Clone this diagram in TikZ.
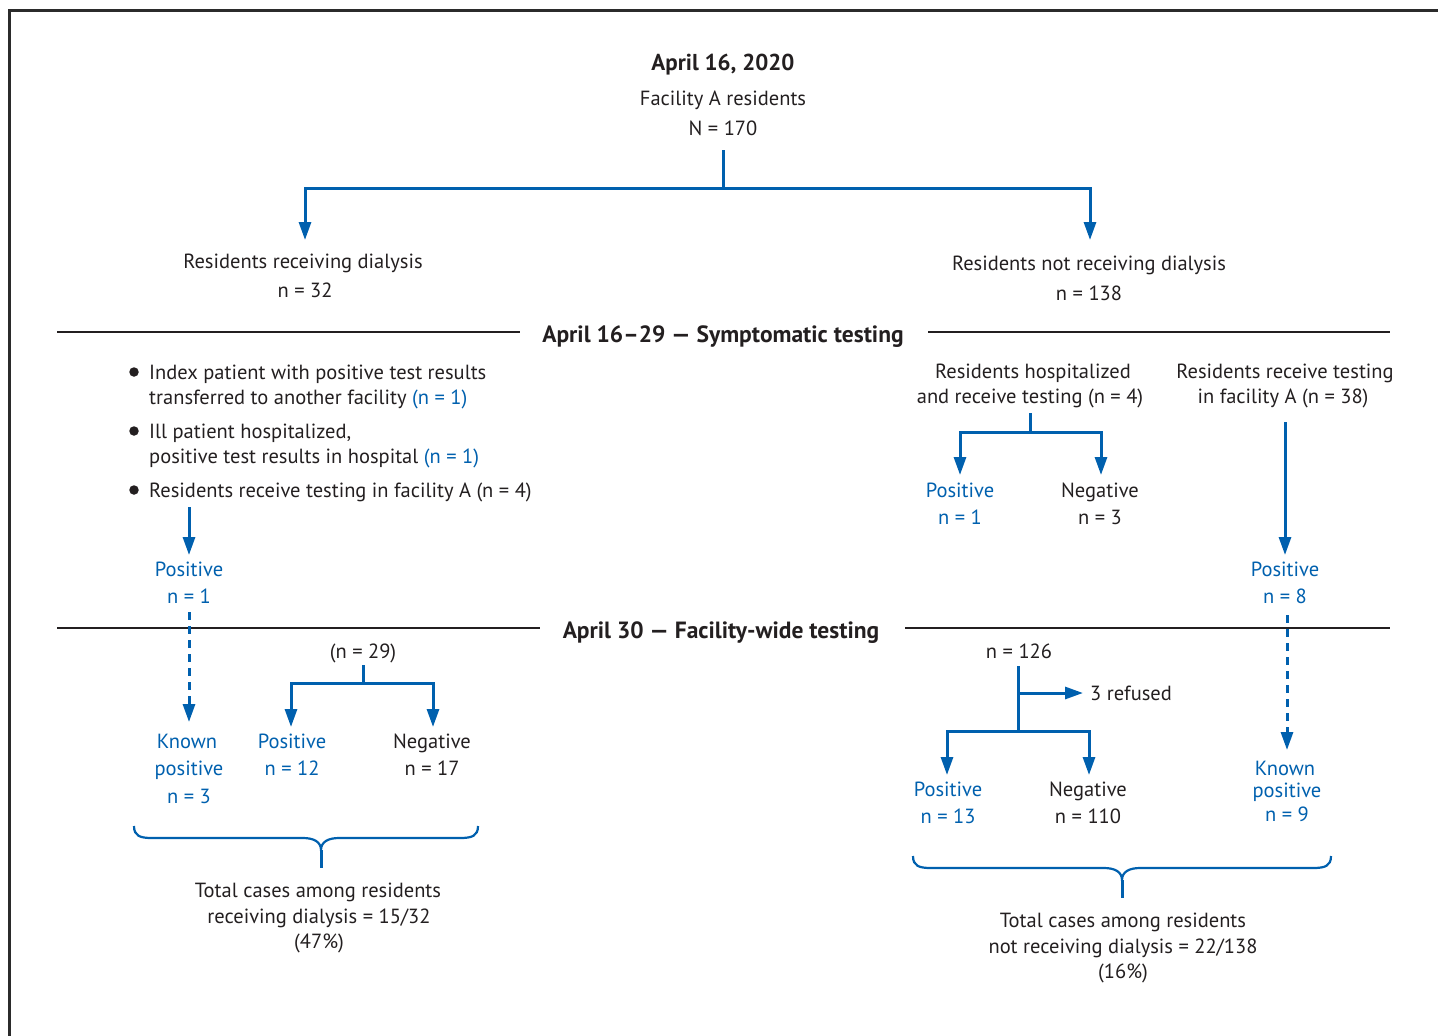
\documentclass[tikz,border=0pt]{standalone}
\usepackage{fontspec}
\setmainfont{PT Sans}
\usetikzlibrary{arrows.meta}
\definecolor{cblue}{HTML}{0060AE}
\definecolor{ctext}{HTML}{231F20}
\definecolor{cframe}{HTML}{2B2B2B}
\begin{document}
\begin{tikzpicture}[x=1pt,y=-1pt,
  txt/.style={font=\fontsize{20.5}{24}\selectfont, text=ctext, inner sep=0pt, anchor=base},
  hdr/.style={font=\fontsize{23.5}{26}\selectfont\bfseries, text=ctext, inner sep=0pt, anchor=base},
  ttl/.style={font=\fontsize{23}{26}\selectfont\bfseries, text=ctext, inner sep=0pt, anchor=base},
  btxt/.style={txt, text=cblue},
  conn/.style={draw=cblue, line width=3pt, -{Triangle[length=18pt,width=12pt]}},
  plain/.style={draw=cblue, line width=3pt},
  dconn/.style={conn, dash pattern=on 8pt off 6pt},
  rule/.style={draw=ctext, line width=2.2pt},
  brace/.style={draw=cblue, line width=2.2pt},
  bullet/.style={circle, fill=ctext, inner sep=0pt, minimum size=9.5pt},
]
\useasboundingbox (0,0) rectangle (1438,1036);
% frame
\draw[cframe, line width=3pt] (9,1040) -- (9,10) -- (1445,10);

% top
\node[ttl] (title) at (723,70) {April 16, 2020};
\node[txt] (fac) at (723,105) {Facility A residents};
\node[txt] (n170) at (723,135) {N = 170};
\coordinate (top0) at (723,150);
\coordinate (top1) at (723,188);
\coordinate (tipdial) at (305,240);
\coordinate (tipnodial) at (1090,240);
\draw[plain] (top0) -- (top1);
\draw[conn] (top1) -| (tipdial);
\draw[conn] (top1) -| (tipnodial);

\node[txt] (dial) at (303,268) {Residents receiving dialysis};
\node[txt] (dialn) at (305,297) {n = 32};
\node[txt] (nodial) at (1089,270) {Residents not receiving dialysis};
\node[txt] (nodialn) at (1089,300) {n = 138};

% header 1
\node[hdr] (hdra) at (723,342) {April 16–29 — Symptomatic testing};
\coordinate (ra1) at (57,332);
\coordinate (ra2) at (520,332);
\coordinate (ra3) at (928,332);
\coordinate (ra4) at (1390,332);
\draw[rule] (ra1) -- (ra2);
\draw[rule] (ra3) -- (ra4);

% left bullets
\node[bullet] (b1) at (134,372) {};
\node[bullet] (b2) at (134,431) {};
\node[bullet] (b3) at (134,490) {};
\node[txt, anchor=base west] (l1a) at (149,379) {Index patient with positive test results};
\node[txt, anchor=base west] (l1b) at (149,404) {transferred to another facility \textcolor{cblue}{(n = 1)}};
\node[txt, anchor=base west] (l2a) at (149,438) {Ill patient hospitalized,};
\node[txt, anchor=base west] (l2b) at (149,463) {positive test results in hospital \textcolor{cblue}{(n = 1)}};
\node[txt, anchor=base west] (l3) at (149,497) {Residents receive testing in facility A (n = 4)};
\coordinate (s3) at (189,507);
\coordinate (tp1) at (189,555);
\draw[conn] (s3) -- (tp1);
\node[btxt] (pos1) at (189,576) {Positive};
\node[btxt] (pos1n) at (189,603) {n = 1};

% right hospitalized
\node[txt] (hosa) at (1033,378) {Residents hospitalized};
\node[txt] (hosb) at (1030,403) {and receive testing (n = 4)};
\coordinate (h0) at (1030,413);
\coordinate (h1) at (1030,432);
\coordinate (thp) at (960,475);
\coordinate (thn) at (1101,475);
\draw[plain] (h0) -- (h1);
\draw[conn] (h1) -| (thp);
\draw[conn] (h1) -| (thn);
\node[btxt] (hpos) at (960,497) {Positive};
\node[btxt] (hposn) at (960,524) {n = 1};
\node[txt] (hneg) at (1100,497) {Negative};
\node[txt] (hnegn) at (1100,524) {n = 3};

% right facility
\node[txt] (rfa) at (1285,378) {Residents receive testing};
\node[txt] (rfb) at (1283,403) {in facility A (n = 38)};
\coordinate (rf0) at (1285,422);
\coordinate (trf) at (1285,555);
\draw[conn] (rf0) -- (trf);
\node[btxt] (pos8) at (1285,576) {Positive};
\node[btxt] (pos8n) at (1285,603) {n = 8};

% header 2
\node[hdr] (hdrb) at (721,638) {April 30 — Facility-wide testing};
\coordinate (rb1) at (57,628);
\coordinate (rb2) at (540,628);
\coordinate (rb3) at (905,628);
\coordinate (rb4) at (1390,628);
\draw[rule] (rb1) -- (rb2);
\draw[rule] (rb3) -- (rb4);

% left bottom
\coordinate (d1) at (189,612);
\coordinate (td1) at (189,722);
\draw[dconn] (d1) -- (td1);
\node[btxt] (k3a) at (187,748) {Known};
\node[btxt] (k3b) at (189,775) {positive};
\node[btxt] (k3c) at (189,803) {n = 3};

\node[txt] (n29) at (363,658) {(n = 29)};
\coordinate (m0) at (363,665);
\coordinate (m1) at (363,683);
\coordinate (tm1) at (291,727);
\coordinate (tm2) at (433,727);
\draw[plain] (m0) -- (m1);
\draw[conn] (m1) -| (tm1);
\draw[conn] (m1) -| (tm2);
\node[btxt] (p12) at (292,748) {Positive};
\node[btxt] (p12n) at (292,775) {n = 12};
\node[txt] (n17) at (432,748) {Negative};
\node[txt] (n17n) at (432,775) {n = 17};

\coordinate (bl0) at (134,826);
\coordinate (blt) at (321,850);
\coordinate (bl1) at (478,826);
\coordinate (bls) at (321,868);
\draw[brace] (bl0) .. controls (134,836) and (140,838) .. (152,838) -- (303,838)
  .. controls (314,838) and (321,842) .. (blt)
  .. controls (321,842) and (328,838) .. (339,838) -- (460,838)
  .. controls (472,838) and (478,836) .. (bl1);
\draw[plain] (blt) -- (bls);
\node[txt] (tla) at (318,897) {Total cases among residents};
\node[txt] (tlb) at (319,923) {receiving dialysis = 15/32};
\node[txt] (tlc) at (319,948) {(47\%)};

% right bottom
\node[txt] (n126) at (1019,658) {n = 126};
\coordinate (q0) at (1018,666);
\coordinate (qr) at (1018,693);
\coordinate (q1) at (1018,731);
\coordinate (tq) at (1083,693);
\coordinate (tq1) at (947,775);
\coordinate (tq2) at (1089,775);
\draw[plain] (q0) -- (q1);
\draw[conn] (qr) -- (tq);
\node[txt, anchor=base west] (refused) at (1090,700) {3 refused};
\draw[conn] (q1) -| (tq1);
\draw[conn] (q1) -| (tq2);
\node[btxt] (p13) at (948,796) {Positive};
\node[btxt] (p13n) at (948,823) {n = 13};
\node[txt] (n110) at (1088,796) {Negative};
\node[txt] (n110n) at (1088,823) {n = 110};

\coordinate (d2) at (1287,615);
\coordinate (td2) at (1287,750);
\draw[dconn] (d2) -- (td2);
\node[btxt] (k9a) at (1285,775) {Known};
\node[btxt] (k9b) at (1287,797) {positive};
\node[btxt] (k9c) at (1287,821) {n = 9};

\coordinate (br0) at (913,856);
\coordinate (brt) at (1122,880);
\coordinate (br1) at (1331,856);
\coordinate (brs) at (1122,898);
\draw[brace] (br0) .. controls (913,866) and (919,868) .. (931,868) -- (1104,868)
  .. controls (1115,868) and (1122,872) .. (brt)
  .. controls (1122,872) and (1129,868) .. (1140,868) -- (1313,868)
  .. controls (1325,868) and (1331,866) .. (br1);
\draw[plain] (brt) -- (brs);
\node[txt] (tra) at (1123,927) {Total cases among residents};
\node[txt] (trb) at (1123,953) {not receiving dialysis = 22/138};
\node[txt] (trc) at (1123,978) {(16\%)};
\end{tikzpicture}
\end{document}
